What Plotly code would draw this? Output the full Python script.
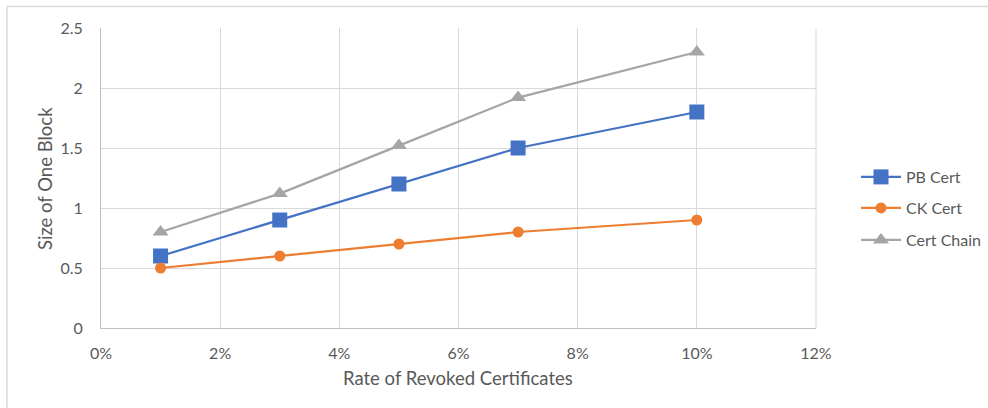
import plotly.graph_objects as go

# Revocation rate (fraction) and block size per certificate scheme
rates = [0.01, 0.03, 0.05, 0.07, 0.10]
pb_cert = [0.6, 0.9, 1.2, 1.5, 1.8]
ck_cert = [0.5, 0.6, 0.7, 0.8, 0.9]
cert_chain = [0.8, 1.12, 1.52, 1.92, 2.3]

x_ticks = [0, 0.02, 0.04, 0.06, 0.08, 0.10, 0.12]
x_tick_text = ["0%", "2%", "4%", "6%", "8%", "10%", "12%"]
y_ticks = [0, 0.5, 1, 1.5, 2, 2.5]
y_tick_text = ["0", "0.5", "1", "1.5", "2", "2.5"]

FONT = "Lato, Open Sans, sans-serif"
TXT = "#595959"

# plot area spans 101..816 px horizontally and 28..328 px vertically
L, R, T, B = 101, 816, 28, 328
W, H = 988, 408
pw, ph = R - L, B - T

series = [
    ("PB Cert", pb_cert, "#4472C4", "square", 15, "legend"),
    ("CK Cert", ck_cert, "#ED7D31", "circle", 11, "legend2"),
    ("Cert Chain", cert_chain, "#A5A5A5", "triangle-up", 14, "legend3"),
]

fig = go.Figure()
for name, vals, color, sym, size, leg in series:
    fig.add_trace(go.Scatter(
        x=rates, y=vals, name=name, mode="lines+markers",
        line=dict(color=color, width=2.25),
        marker=dict(symbol=sym, size=size, color=color),
        legend=leg,
    ))

# one legend box per series so the rows keep a wide spacing
legend_rows = [177, 208, 240]
legend_boxes = {}
for key, yc in zip(["legend", "legend2", "legend3"], legend_rows):
    legend_boxes[key] = dict(
        xref="container", yref="container",
        x=856 / W, y=(H - yc) / H, xanchor="left", yanchor="middle",
        font=dict(family=FONT, size=16, color=TXT),
        bgcolor="rgba(0,0,0,0)", itemwidth=40,
    )

fig.update_layout(
    width=W, height=H,
    margin=dict(l=L, r=W - R, t=T, b=H - B, pad=0, autoexpand=False),
    paper_bgcolor="white", plot_bgcolor="white",
    font=dict(family=FONT, size=16, color=TXT),
    showlegend=True,
    **legend_boxes,
    xaxis=dict(
        range=[0, 0.12], tickvals=x_ticks, ticktext=x_tick_text,
        showgrid=True, gridcolor="#D9D9D9", gridwidth=1,
        showline=True, linecolor="#BFBFBF", linewidth=1,
        zeroline=False, ticks="", ticklabelstandoff=11, automargin=False,
        tickfont=dict(family=FONT, size=16, color=TXT),
    ),
    yaxis=dict(
        range=[0, 2.5], tickvals=y_ticks, ticktext=y_tick_text,
        showgrid=True, gridcolor="#D9D9D9", gridwidth=1,
        showline=True, linecolor="#BFBFBF", linewidth=1,
        zeroline=False, ticks="", ticklabelstandoff=14, automargin=False,
        tickfont=dict(family=FONT, size=16, color=TXT),
    ),
)

# axis titles
fig.add_annotation(text="Rate of Revoked Certificates", xref="paper", yref="paper",
                   x=(458 - L) / pw, y=(B - 378) / ph, showarrow=False,
                   xanchor="center", yanchor="middle",
                   font=dict(family=FONT, size=18.5, color=TXT))
fig.add_annotation(text="Size of One Block", xref="paper", yref="paper",
                   x=(45 - L) / pw, y=(B - 178) / ph, showarrow=False, textangle=-90,
                   xanchor="center", yanchor="middle",
                   font=dict(family=FONT, size=18.5, color=TXT))

# right plot-area edge
fig.add_shape(type="line", xref="paper", yref="paper", x0=1, x1=1, y0=0, y1=1,
              line=dict(color="#D9D9D9", width=1))

# chart frame (top and left edges)
fx = (7 - L) / pw
fy = (B - 6.5) / ph
fig.add_shape(type="line", xref="paper", yref="paper", x0=fx, x1=(W - L) / pw,
              y0=fy, y1=fy, line=dict(color="#D9D9D9", width=1.5))
fig.add_shape(type="line", xref="paper", yref="paper", x0=fx, x1=fx,
              y0=fy, y1=(B - H) / ph, line=dict(color="#D9D9D9", width=1.5))

fig.write_html("out.html")
